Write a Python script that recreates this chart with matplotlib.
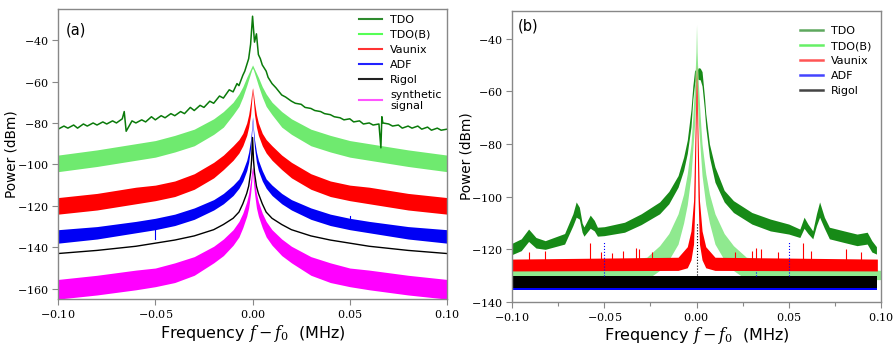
import numpy as np
import matplotlib
matplotlib.use("Agg")
import matplotlib.pyplot as plt
from matplotlib.lines import Line2D
from matplotlib.ticker import FuncFormatter, MultipleLocator

plt.rcParams['mathtext.fontset'] = 'dejavuserif'
plt.rcParams['font.family'] = 'DejaVu Sans'

# ---------------- panel (a) ----------------
# left half of the symmetric spectra (f from -0.1 to 0), mirrored for f > 0
half_f_a = [-0.1, -0.08, -0.06, -0.05, -0.04, -0.03, -0.02, -0.015, -0.01,
            -0.007, -0.005, -0.003, -0.002, -0.001, -0.0005, 0.0]
tdob_a_top = [-95.5, -93, -90, -88.5, -86, -83, -78, -74.5, -70, -66, -62.5, -58, -56, -54, -53, -52]
tdob_a_bot = [-103.5, -101, -98, -96.5, -94, -91, -85.5, -82, -76, -72, -67.5, -62, -59, -56, -54.5, -53.5]
vaunix_a_top = [-116, -114, -111, -110, -108, -104.5, -99, -95.5, -91, -88, -85, -80, -76, -70, -66, -63]
vaunix_a_bot = [-124, -122, -119, -117.5, -115.5, -112, -106.5, -102.5, -98, -94.5, -91, -86, -82, -76, -70, -64]
adf_a_top = [-131.5, -130, -127.5, -126, -124, -121, -117, -114, -110, -107, -103, -98, -94, -88, -83, -77]
adf_a_bot = [-138, -136, -133, -131.5, -129.5, -126.5, -122, -119, -115, -111.5, -108, -103, -99, -92, -86, -79]
rigol_a = [-143, -141.5, -139.5, -138, -136.5, -134.5, -131.5, -129, -126, -123, -119, -114, -110.5, -104, -98, -87]
synth_a_top = [-155.5, -153.5, -151, -150, -147.5, -144.5, -139.5, -136, -131.5, -127.5, -123.5, -118, -114, -108, -104, -101]
synth_a_bot = [-165, -163, -160.5, -159, -157, -153.5, -147.5, -144, -139, -135, -130.5, -125, -121, -114, -109, -103]

tdo_a_f = [-0.100, -0.097, -0.095, -0.092, -0.090, -0.087, -0.085, -0.082, -0.080, -0.077,
           -0.075, -0.072, -0.070, -0.067, -0.066, -0.065, -0.062, -0.060, -0.057, -0.055,
           -0.052, -0.050, -0.047, -0.045, -0.042, -0.040, -0.037, -0.035, -0.032, -0.030,
           -0.027, -0.025, -0.022, -0.020, -0.017, -0.015, -0.012, -0.010, -0.008, -0.007,
           -0.005, -0.004, -0.003, -0.002, -0.001, 0.000, 0.001, 0.002, 0.003, 0.004,
           0.005, 0.007, 0.008, 0.010, 0.012, 0.015, 0.017, 0.020, 0.022, 0.025,
           0.027, 0.030, 0.032, 0.035, 0.037, 0.040, 0.042, 0.045, 0.047, 0.050,
           0.052, 0.055, 0.057, 0.060, 0.062, 0.065, 0.066, 0.0665, 0.067, 0.070,
           0.072, 0.075, 0.077, 0.080, 0.082, 0.085, 0.087, 0.090, 0.092, 0.095,
           0.097, 0.100]
tdo_a = [-83, -81.5, -82.5, -81, -82.5, -80.5, -81.5, -80, -81, -79.5,
         -80.5, -79, -80, -78, -74.5, -84, -79, -80, -78.5, -79.5,
         -77, -78.5, -76.5, -77.5, -75.5, -76.5, -74.5, -75.5, -72.5, -74,
         -71.5, -72.5, -69.5, -70.5, -67, -68, -64, -65, -61, -62,
         -57, -55, -52, -49, -42, -28.5, -41, -37, -47, -49,
         -52, -55, -58, -61, -63, -66.5, -67.5, -69.5, -70.5, -71,
         -72.5, -73, -74, -74.5, -75.5, -76, -77, -77.5, -78.5, -78,
         -79.5, -79, -80.5, -80, -81, -80.5, -92, -77, -80, -80.5,
         -81.5, -81, -82.5, -81.5, -82.5, -81.5, -83, -82, -83.5, -82.5,
         -83.5, -83]

# ---------------- panel (b) ----------------
tdo_b_f = [-0.100, -0.095, -0.091, -0.087, -0.082, -0.0715, -0.067, -0.0652, -0.0635, -0.062,
           -0.061, -0.0576, -0.0554, -0.0537, -0.050, -0.039, -0.030, -0.020, -0.015, -0.010,
           -0.007, -0.005, -0.003, -0.002, -0.001, 0.000, 0.001, 0.002, 0.003, 0.0043,
           0.005, 0.007, 0.010, 0.015, 0.020, 0.030, 0.040, 0.050, 0.056, 0.0583,
           0.0604, 0.063, 0.065, 0.0667, 0.0693, 0.072, 0.080, 0.087, 0.0925, 0.095, 0.0975]
tdo_b_top = [-117.7, -116, -112.3, -115.5, -116.7, -114, -106.5, -102, -104, -110,
             -111.5, -107, -109, -111.6, -111.4, -109.7, -106.5, -102, -98, -92,
             -85, -78.5, -67, -58, -51.8, -52.5, -51, -51.2, -52.5, -62,
             -68.4, -80, -88.7, -97.6, -101.5, -106, -108.5, -110.4, -112.3, -107.8,
             -110.4, -113, -106.5, -102, -107.8, -111.6, -113, -114.2, -113.5, -116.7, -119]
tdo_b_bot = [-122, -120.5, -117, -119.5, -120, -118, -111, -107.8, -108.5, -113.5,
             -115, -112, -113, -115, -114.8, -113.5, -110.6, -106.5, -102.7, -96.4,
             -90, -83.6, -73.5, -63, -57, -55, -55.5, -55.6, -58, -67,
             -73.5, -85, -94.5, -102, -106, -110.4, -113, -114.2, -115.5, -112,
             -114, -116, -111, -107.8, -112, -116, -117.4, -118.6, -118, -121, -121.8]

tdob_b_f = [-0.100, -0.027, -0.020, -0.015, -0.010, -0.007, -0.005, -0.003, -0.002, -0.001, -0.0003,
            0.0, 0.0003, 0.001, 0.002, 0.003, 0.005, 0.007, 0.010, 0.015, 0.020, 0.027, 0.100]
tdob_b_top = [-128, -123, -118.6, -114, -106.5, -99, -91.3, -80, -69.6, -57, -45,
              -34.6, -45, -57, -69.6, -80, -91.3, -99, -106.5, -114, -118.6, -123, -128]
tdob_b_bot = [-131.5, -131.5, -128, -124, -118, -110, -103, -92, -82, -72, -60,
              -55, -60, -72, -82, -92, -103, -110, -118, -124, -128, -131.5, -131.5]

vaunix_b_f = [-0.100, -0.010, -0.005, -0.003, -0.0016, -0.0008, 0.0, 0.0008, 0.0016, 0.003, 0.005, 0.010, 0.098]
vaunix_b_top = [-123.7, -123, -119, -113, -101.5, -76, -50, -76, -101.5, -113, -119, -123, -123.7]
vaunix_b_bot = [-128.2, -128, -127, -124, -118, -100, -62, -100, -118, -124, -127, -128, -128.2]
vaunix_spike_f = [-0.091, -0.082, -0.0578, -0.052, -0.046, -0.040, -0.033, -0.031, -0.024,
                  0.021, 0.030, 0.0325, 0.035, 0.044, 0.0578, 0.062, 0.081, 0.089]
vaunix_spike_top = [-121, -120.5, -117.4, -121, -121.5, -120.5, -119.5, -120, -121,
                    -121, -120.5, -119.5, -120, -121, -117.4, -120.5, -120, -121]

adf_b_f = [-0.100, 0.098]
adf_b_top = [-130.5, -130.5]
adf_b_bot = [-135.3, -135.3]
adf_spike_f = [-0.050, 0.050, 0.032]
adf_spike_top = [-116.7, -116.7, -128]

rigol_b_f = [-0.100, 0.098]
rigol_b_top = [-130.3, -130.3]
rigol_b_bot = [-134.8, -134.8]
rigol_spike_top = -110

labels_a = ['TDO', 'TDO(B)', 'Vaunix', 'ADF', 'Rigol', 'synthetic\nsignal']
labels_b = ['TDO', 'TDO(B)', 'Vaunix', 'ADF', 'Rigol']


def mirror(v):
    return list(v) + list(v[-2::-1])


f_a = half_f_a + [-x for x in half_f_a[-2::-1]]

fig = plt.figure(figsize=(8.94, 3.45), dpi=100)
axa = fig.add_axes([0.065, 0.133, 0.435, 0.841])
axb = fig.add_axes([0.5727, 0.1246, 0.4128, 0.8434])

grey = '#888888'
math_fmt = FuncFormatter(lambda v, p: '$%.2f$' % v)
math_fmt_y = FuncFormatter(lambda v, p: '$%d$' % v)

# ---- (a)
axa.fill_between(f_a, mirror(synth_a_bot), mirror(synth_a_top), color='#ff00ff', lw=0)
axa.plot(f_a, mirror(rigol_a), color='black', lw=1.0)
axa.fill_between(f_a, mirror(adf_a_bot), mirror(adf_a_top), color='#0000f5', lw=0)
axa.fill_between(f_a, mirror(vaunix_a_bot), mirror(vaunix_a_top), color='#ff0000', lw=0)
axa.fill_between(f_a, mirror(tdob_a_bot), mirror(tdob_a_top), color='#6fea6f', lw=0)
axa.plot(tdo_a_f, tdo_a, color='#0a7a0a', lw=1.1)
axa.plot([-0.05, -0.05], [-131, -136], color='#0000f5', lw=0.8)
axa.plot([0.05, 0.05], [-125, -130], color='#0000f5', lw=0.8)

axa.set_xlim(-0.1, 0.1)
axa.set_ylim(-165, -25)
axa.set_yticks([-160, -140, -120, -100, -80, -60, -40])
axa.set_xticks([-0.1, -0.05, 0, 0.05, 0.1])
axa.text(0.02, 0.955, '(a)', transform=axa.transAxes, fontsize=10.5, va='top')

cols_a = ['#2e8b2e', '#55ff55', '#ff3333', '#2222ff', '#222222', '#ff55ff']
handles_a = [Line2D([], [], color=c, lw=1.5) for c in cols_a]
axa.legend(handles_a, labels_a, loc='upper right', frameon=False, fontsize=8,
           handlelength=2.1, handletextpad=0.7, labelspacing=0.45, borderaxespad=0.1,
           bbox_to_anchor=(1.0, 1.0))

# ---- (b)
axb.fill_between(tdo_b_f, tdo_b_bot, tdo_b_top, color='#178a17', lw=0)
axb.fill_between(tdob_b_f, tdob_b_bot, tdob_b_top, color='#8fe98f', lw=0)
axb.fill_between(vaunix_b_f, vaunix_b_bot, vaunix_b_top, color='#ff0000', lw=0)
axb.vlines(vaunix_spike_f, -124, vaunix_spike_top, color='#ff0000', lw=0.8)
axb.fill_between(adf_b_f, adf_b_bot, adf_b_top, color='#0000ff', lw=0)
axb.vlines(adf_spike_f, -130, adf_spike_top, color='#0000ff', lw=0.8, linestyles=':')
axb.fill_between(rigol_b_f, rigol_b_bot, rigol_b_top, color='black', lw=0)
axb.vlines([0.0], -131, rigol_spike_top, color='black', lw=0.8, linestyles=':')

axb.set_xlim(-0.1, 0.1)
axb.set_ylim(-140, -29.5)
axb.set_yticks([-140, -120, -100, -80, -60, -40])
axb.set_xticks([-0.1, -0.05, 0, 0.05, 0.1])
axb.xaxis.set_minor_locator(MultipleLocator(0.025))
axb.text(0.015, 0.975, '(b)', transform=axb.transAxes, fontsize=10.5, va='top')

cols_b = ['#5ea85e', '#66f066', '#ff5555', '#4444ff', '#444444']
handles_b = [Line2D([], [], color=c, lw=1.8) for c in cols_b]
axb.legend(handles_b, labels_b, loc='upper right', frameon=False, fontsize=8,
           handlelength=2.1, handletextpad=0.7, labelspacing=0.45, borderaxespad=0.3,
           bbox_to_anchor=(0.995, 0.975))

for ax in (axa, axb):
    ax.xaxis.set_major_formatter(math_fmt)
    ax.yaxis.set_major_formatter(math_fmt_y)
    ax.tick_params(axis='both', which='both', colors=grey, labelcolor='black',
                   labelsize=8, length=4, width=0.8, direction='out', pad=2.5)
    ax.tick_params(axis='both', which='minor', length=3)
    for s in ax.spines.values():
        s.set_color(grey)
        s.set_linewidth(1.0)
    ax.set_xlabel('Frequency $f - f_0$  (MHz)', fontsize=11.5)
    ax.set_ylabel('Power (dBm)', fontsize=9.8)

axa.yaxis.set_label_coords(-0.103, 0.5)
axa.xaxis.set_label_coords(0.5, -0.083)
axb.yaxis.set_label_coords(-0.105, 0.5)
axb.xaxis.set_label_coords(0.5, -0.079)

fig.savefig('out.png', dpi=100)
